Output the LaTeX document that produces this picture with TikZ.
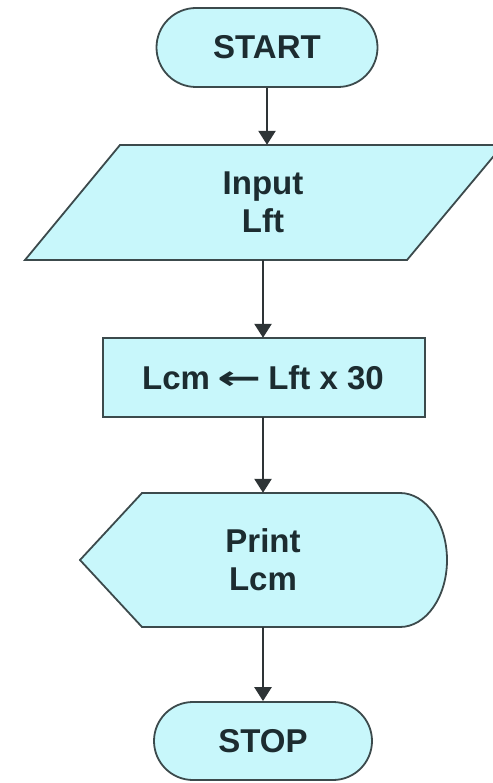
\documentclass[tikz,border=0pt]{standalone}
\usepackage{fontspec}
\setmainfont{Liberation Sans}
\newfontfamily\dejavu{DejaVu Sans}
\usetikzlibrary{shapes.misc,arrows.meta}
\definecolor{boxfill}{HTML}{C8F7FB}
\definecolor{boxline}{HTML}{3C4A4C}
\definecolor{txt}{HTML}{1C2C30}
\definecolor{conn}{HTML}{2E3436}
\tikzset{
  shapeline/.style={draw=boxline,line width=1.8pt,fill=boxfill},
  term/.style={shapeline,rounded rectangle,inner sep=0pt},
  lbl/.style={text=txt,font=\fontsize{33}{38}\selectfont\bfseries,align=center,inner sep=0pt},
  conn/.style={draw=conn,line width=2.6pt,-{Triangle[length=14pt,width=17pt]}}
}
\begin{document}
\begin{tikzpicture}[x=1pt,y=-1pt]
\useasboundingbox (0,0) rectangle (492,783);
% shapes
\draw[shapeline] (120,145) -- (503,145) -- (407,260) -- (25,260) -- cycle;
\draw[shapeline] (103,338) rectangle (425,417);
\draw[shapeline] (142,493) -- (400,493) arc[start angle=-90,end angle=90,x radius=47,y radius=67] -- (142,627) -- (80,560) -- cycle;
% nodes
\node[term,minimum width=221pt,minimum height=79pt,lbl] (start) at (267,47.5) {START};
\node[lbl,minimum height=115pt] (inp) at (263,202.5) {Input\\Lft};
\node[lbl,minimum height=79pt] (calc) at (263,377.5) {Lcm\hspace{7pt}\scalebox{1.6}[1]{\dejavu\bfseries ←}\hspace{7pt}Lft x 30};
\node[lbl,minimum height=134pt] (out) at (263,560) {Print\\Lcm};
\node[term,minimum width=218pt,minimum height=78pt,lbl] (stop) at (263,741) {STOP};
% connectors
\draw[conn] (start.south) -- (start.south |- inp.north);
\draw[conn] (inp.south) -- (calc.north);
\draw[conn] (calc.south) -- (out.north);
\draw[conn] (out.south) -- (stop.north);
\end{tikzpicture}
\end{document}
